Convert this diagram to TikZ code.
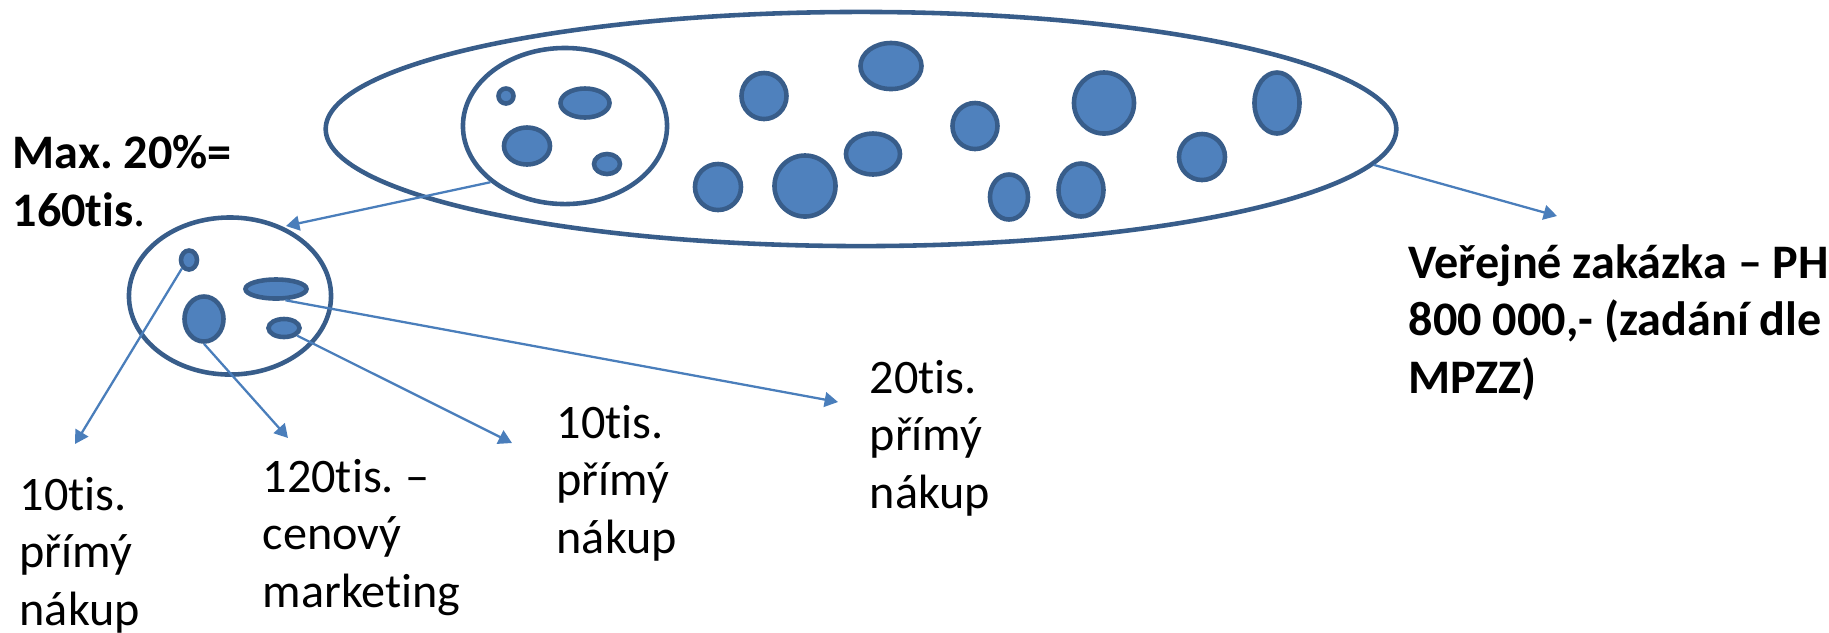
\documentclass[tikz,border=0pt]{standalone}
\usepackage{fontspec}
\setmainfont{Carlito}[Ligatures=NoCommon]
\usetikzlibrary{shapes.geometric,arrows.meta}
\definecolor{modra}{HTML}{4F81BD}
\definecolor{okraj}{HTML}{385D8A}
\definecolor{linka}{HTML}{4A7EBB}
\frenchspacing
\begin{document}
\begin{tikzpicture}[x=0.01cm,y=-0.01cm,
    kruh/.style={ellipse,draw=okraj,line width=1.3pt,inner sep=0pt},
    tecka/.style={ellipse,draw=okraj,fill=modra,line width=1.3pt,inner sep=0pt},
    tah/.style={draw=linka,line width=0.65pt,-{Triangle[length=3.8pt,width=4.2pt]}},
    popis/.style={anchor=base west,align=left,inner sep=0pt,
        font=\fontsize{13.7}{16.3}\selectfont}]
    \useasboundingbox (0,0) rectangle (1829,632);

    % Velka zakazka a vybrana cast
    \node[kruh,minimum width=10.7cm,minimum height=2.34cm] (velka) at (861,129) {};
    \node[kruh,minimum width=2.04cm,minimum height=1.56cm] (cast) at (565,126) {};
    \node[kruh,minimum width=2.02cm,minimum height=1.57cm] (mala) at (230,296) {};

    % Drobne zakazky (jmeno/x/y/rx/ry v px)
    \foreach \n/\x/\y/\a/\b in {a1/506/96/9.5/9.5, a2/585/103/26.5/16.5,
        a3/527/146/25/20.5, a4/607/164/15/12,
        o1/764/96/24.5/25, o2/891/66/32.5/25, o3/975/126/24.5/25,
        o4/718/187/25/25, o5/805/186/32.5/32.5, o6/873/154/29/22.5,
        o7/1009/197/21/24.5, o8/1081/190/24.5/28.5, o9/1104/103/32/32.5,
        o10/1202/157/25/25, o11/1277/103/24.5/32.5,
        t/189/260/10/11.5, h/276/289/32.5/11.5, b/204/319/21.5/24.5,
        s/284/328/17.5/11}
        \node[tecka,minimum width={(\a-2)*0.02cm},minimum height={(\b-2)*0.02cm}]
            (\n) at (\x,\y) {};

    % Konce sipek
    \coordinate (kVZ) at (1557,216);
    \coordinate (kMala) at (286,226);
    \coordinate (k1) at (75,444);
    \coordinate (k2) at (288,438);
    \coordinate (k3) at (512,443);
    \coordinate (k4) at (838,402);

    % Sipky
    \draw[tah] (cast.217) -- (kMala);
    \draw[tah] (velka.-4) -- (kVZ);
    \draw[tah] (t.230) -- (k1);
    \draw[tah] (b.south) -- (k2);
    \draw[tah] (s.-30) -- (k3);
    \draw[tah] (h.-50) -- (k4);

    % Popisky (base = posledni radek)
    \node[popis] (max) at (12,226) {\textbf{Max. 20\%=}\\\textbf{160tis}.};
    \node[popis] (vz) at (1408,393) {\textbf{Veřejné zakázka – PH}\\
        \textbf{800 000,- (zadání dle}\\\textbf{MPZZ)}};
    \node[popis] (p1) at (19,625) {10tis.\\přímý\\nákup};
    \node[popis] (p2) at (262,607) {120tis. –\\cenový\\marketing};
    \node[popis] (p3) at (556,553) {10tis.\\přímý\\nákup};
    \node[popis] (p4) at (869,508) {20tis.\\přímý\\nákup};
\end{tikzpicture}
\end{document}
